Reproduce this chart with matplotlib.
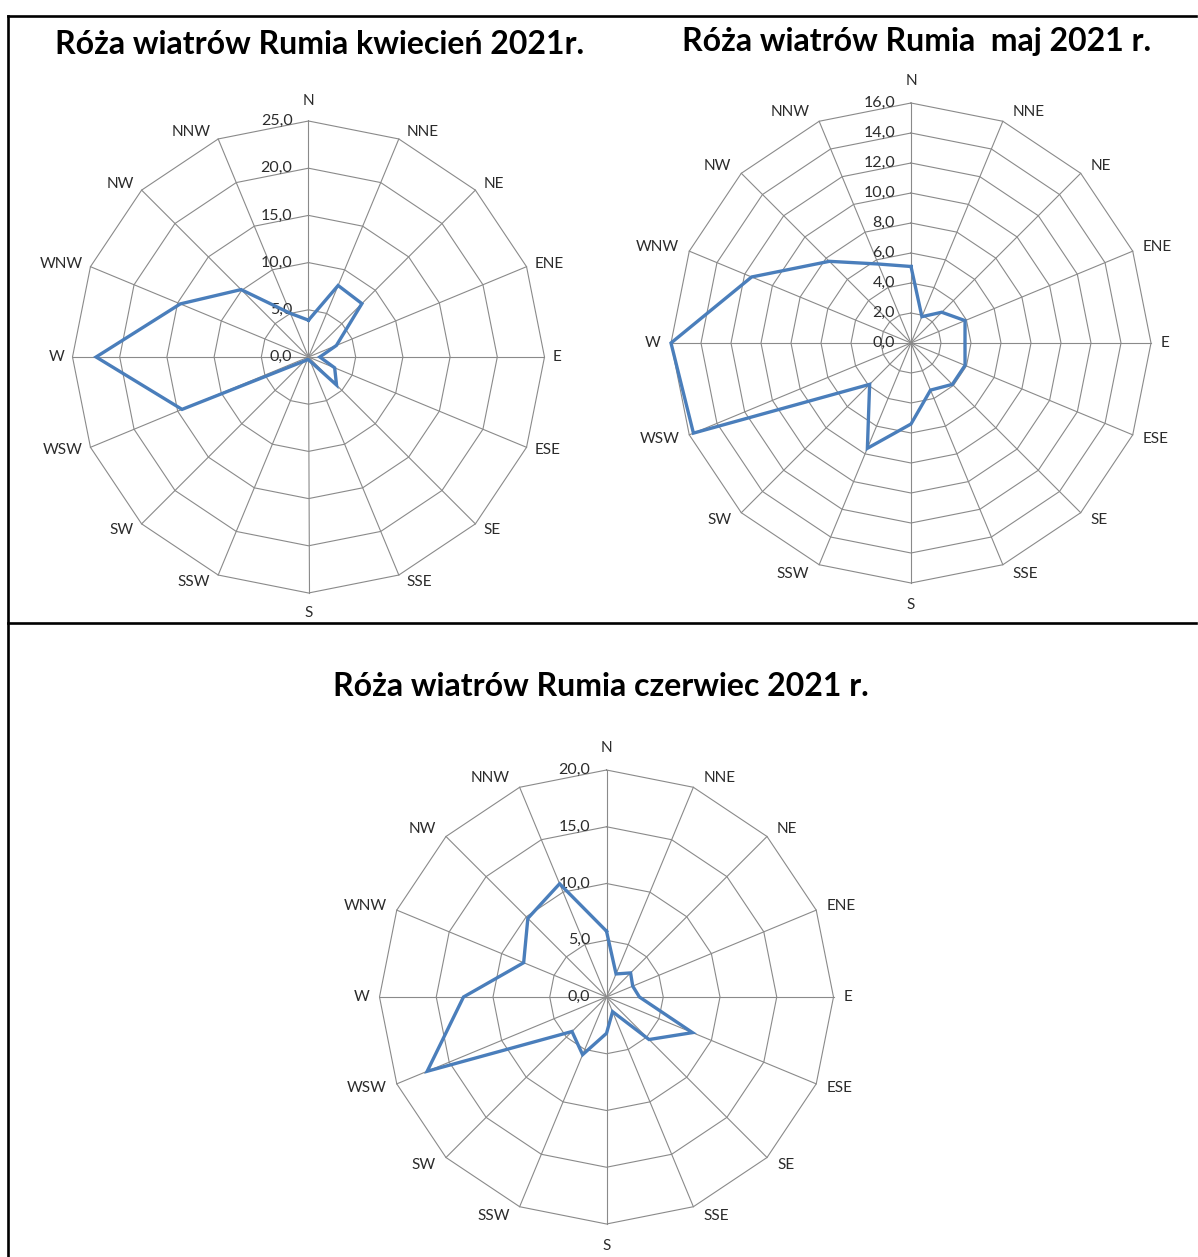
import numpy as np
import matplotlib
matplotlib.use("Agg")
import matplotlib.pyplot as plt
from matplotlib.lines import Line2D

plt.rcParams['font.family'] = ['Lato', 'DejaVu Sans']

# wind directions, clockwise from north
directions = ["N", "NNE", "NE", "ENE", "E", "ESE", "SE", "SSE",
              "S", "SSW", "SW", "WSW", "W", "WNW", "NW", "NNW"]

# frequency [%] per direction
kwiecien = [3.9, 8.2, 8.0, 3.2, 1.2, 3.0, 4.2, 0.5,
            0.3, 0.3, 0.6, 14.5, 22.5, 14.7, 10.1, 5.0]
maj = [5.1, 1.9, 2.9, 3.9, 3.6, 3.9, 3.9, 3.4,
       5.4, 7.6, 3.9, 15.7, 16.0, 11.5, 7.7, 5.7]
czerwiec = [5.8, 2.2, 3.0, 2.5, 2.9, 8.2, 5.3, 1.4,
            3.2, 5.5, 4.3, 17.1, 12.6, 7.9, 9.8, 10.8]

titles = ["Róża wiatrów Rumia kwiecień 2021r.",
          "Róża wiatrów Rumia  maj 2021 r.",
          "Róża wiatrów Rumia czerwiec 2021 r."]

W, H = 1198, 1257
fig = plt.figure(figsize=(W / 100, H / 100), dpi=100)

LINE_COL = "#4a7ebb"
GRID_COL = "#8a8a8a"
TEXT_COL = "#2b2b2b"


def radar(cx, cy, R, rmax, step, values, gap):
    # cx, cy, R in pixels (cy measured from the top)
    h = R * 1.3
    ax = fig.add_axes([(cx - h) / W, (H - cy - h) / H, 2 * h / W, 2 * h / H])
    lim = rmax * h / R
    ax.set_xlim(-lim, lim)
    ax.set_ylim(-lim, lim)
    ax.set_aspect("equal")
    ax.axis("off")

    n = len(directions)
    theta = np.arange(n) * 2 * np.pi / n
    sx, sy = np.sin(theta), np.cos(theta)

    # polygonal rings
    levels = np.arange(step, rmax + step / 2, step)
    for lv in levels:
        ax.plot(np.append(sx, sx[0]) * lv, np.append(sy, sy[0]) * lv,
                color=GRID_COL, lw=0.8, zorder=1)
    # spokes
    for x, y in zip(sx, sy):
        ax.plot([0, x * rmax], [0, y * rmax], color=GRID_COL, lw=0.8, zorder=1)

    # radial tick labels along N spoke
    for lv in np.arange(0, rmax + step / 2, step):
        ax.annotate(f"{lv:.1f}".replace(".", ","), (0, lv), xytext=(-16, 0),
                    textcoords="offset pixels", ha="right", va="center",
                    fontsize=11.5, color=TEXT_COL, zorder=3)

    # direction labels, placed like label boxes next to the outer vertices
    for name, x, y in zip(directions, sx, sy):
        if abs(x) < 0.1:
            off = (0, np.sign(y) * (gap + 5))
            ha, va = "center", ("bottom" if y > 0 else "top")
        else:
            off = (np.sign(x) * gap, y * gap)
            ha, va = ("left" if x > 0 else "right"), "center"
        ax.annotate(name, (x * rmax, y * rmax), xytext=off,
                    textcoords="offset pixels", ha=ha, va=va,
                    fontsize=11, color=TEXT_COL)

    v = np.asarray(values)
    ax.plot(np.append(v * sx, v[0] * sx[0]), np.append(v * sy, v[0] * sy[0]),
            color=LINE_COL, lw=2.4, solid_joinstyle="miter", zorder=4)


radar(308.5, 357, 236, 25, 5, kwiecien, 8)
radar(911, 343, 240, 16, 2, maj, 10)
radar(606.5, 997, 227, 20, 5, czerwiec, 10)

fig.text(320 / W, 1 - 44 / H, titles[0], ha="center", va="center",
         fontsize=23, fontweight="bold", color="black")
fig.text(917 / W, 1 - 41 / H, titles[1], ha="center", va="center",
         fontsize=23, fontweight="bold", color="black")
fig.text(601 / W, 1 - 686 / H, titles[2], ha="center", va="center",
         fontsize=23, fontweight="bold", color="black")

# table frame lines
for xs, ys in [([8, 1196], [16, 16]), ([8, 1196], [623, 623]), ([8, 8], [16, 1256])]:
    fig.add_artist(Line2D([x / W for x in xs], [1 - y / H for y in ys],
                          color="black", lw=1.9))

fig.savefig("out.png", dpi=100)
